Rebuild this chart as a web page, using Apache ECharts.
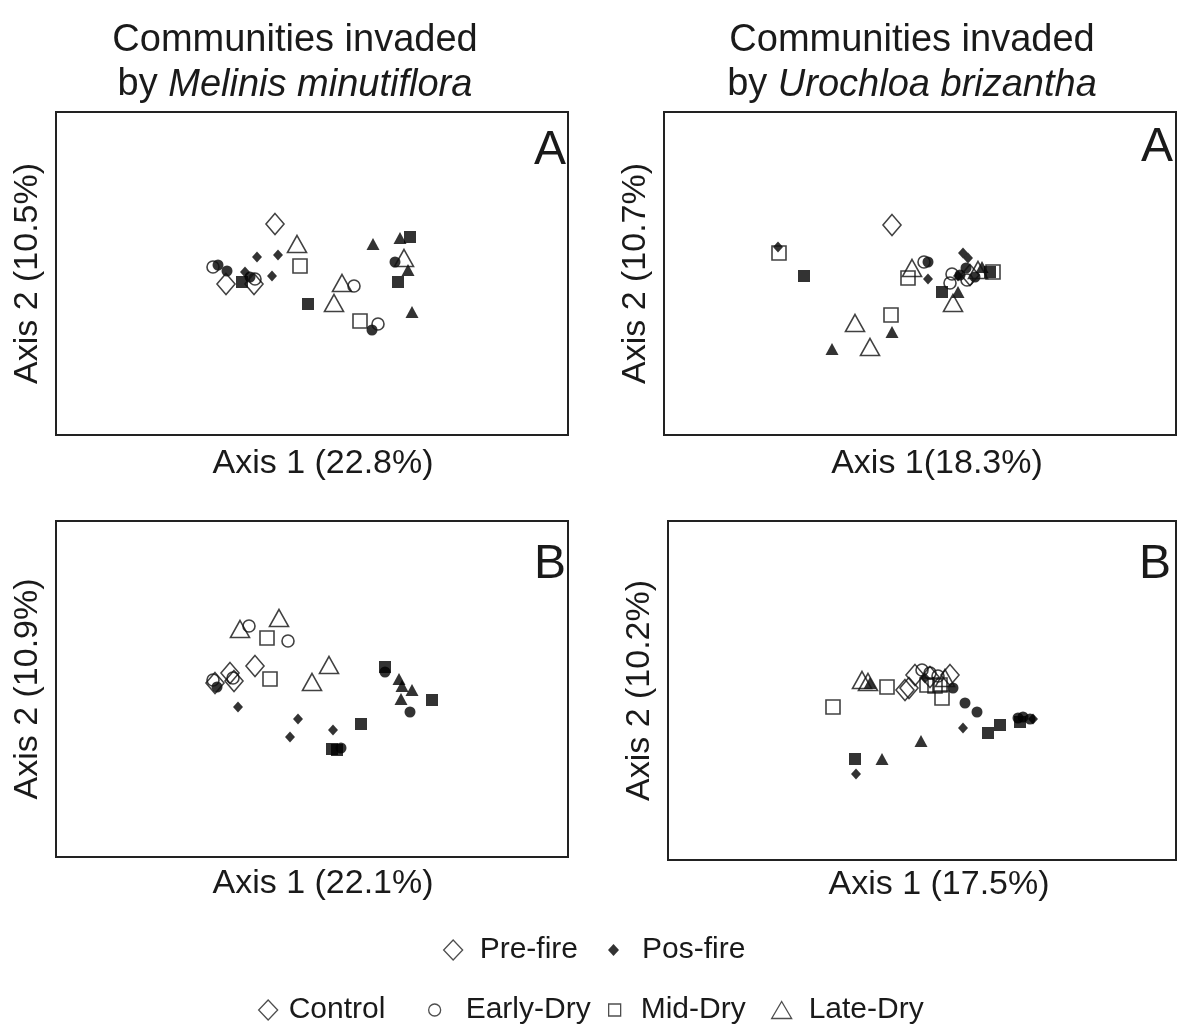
<!DOCTYPE html>
<html>
<head>
<meta charset="utf-8">
<script src="https://cdn.jsdelivr.net/npm/echarts@6/dist/echarts.min.js"></script>
<style>
html,body{margin:0;padding:0;background:#fff;}
#chart{width:1185px;height:1025px;}
</style>
</head>
<body>
<div id="chart"></div>
<script>
// ---------- DATA (ordination scores, in panel units) ----------
const groups = ['Pre-fire Control','Pre-fire Early-Dry','Pre-fire Mid-Dry','Pre-fire Late-Dry',
                'Pos-fire Control','Pos-fire Early-Dry','Pos-fire Mid-Dry','Pos-fire Late-Dry'];

const panelTitles = ['Melinis minutiflora', 'Urochloa brizantha'];
const panelLetters = ['A', 'A', 'B', 'B'];
const xAxisNames = ['Axis 1 (22.8%)', 'Axis 1(18.3%)', 'Axis 1 (22.1%)', 'Axis 1 (17.5%)'];
const yAxisNames = ['Axis 2 (10.5%)', 'Axis 2 (10.7%)', 'Axis 2 (10.9%)', 'Axis 2 (10.2%)'];
const legendFire = ['Pre-fire', 'Pos-fire'];
const legendSeason = ['Control', 'Early-Dry', 'Mid-Dry', 'Late-Dry'];

// Panel A, Melinis minutiflora
const mmA_preControl = [[275,224],[226,284],[254,284]];
const mmA_preEarly   = [[213,267],[255,279],[354,286],[378,324]];
const mmA_preMid     = [[300,266],[360,321]];
const mmA_preLate    = [[297,244],[342,283],[334,303],[404,258]];
const mmA_posControl = [[278,255],[257,257],[245,272],[272,276]];
const mmA_posEarly   = [[218,265],[227,271],[250,277],[372,330],[395,262]];
const mmA_posMid     = [[242,282],[308,304],[410,237],[398,282]];
const mmA_posLate    = [[373,244],[400,238],[408,270],[412,312]];

// Panel A, Urochloa brizantha
const ubA_preControl = [[892,225],[970,275]];
const ubA_preEarly   = [[924,262],[952,274],[967,280],[950,283]];
const ubA_preMid     = [[779,253],[908,278],[891,315],[993,272]];
const ubA_preLate    = [[912,268],[953,303],[855,323],[870,347],[978,270]];
const ubA_posControl = [[778,247],[928,279],[963,253],[968,258],[958,276]];
const ubA_posEarly   = [[928,262],[960,275],[975,277],[966,268]];
const ubA_posMid     = [[804,276],[942,292],[990,272]];
const ubA_posLate    = [[958,292],[892,332],[832,349],[982,267]];

// Panel B, Melinis minutiflora
const mmB_preControl = [[255,666],[230,673],[234,681],[215,683]];
const mmB_preEarly   = [[249,626],[288,641],[213,680],[233,678]];
const mmB_preMid     = [[267,638],[270,679]];
const mmB_preLate    = [[240,629],[279,618],[329,665],[312,682]];
const mmB_posControl = [[238,707],[298,719],[290,737],[333,730]];
const mmB_posEarly   = [[217,687],[341,748],[385,672],[410,712]];
const mmB_posMid     = [[361,724],[332,749],[337,750],[385,667],[432,700]];
const mmB_posLate    = [[399,679],[402,686],[412,690],[401,699]];

// Panel B, Urochloa brizantha
const ubB_preControl = [[909,688],[915,675],[950,675],[930,677],[905,690]];
const ubB_preEarly   = [[922,670],[930,673],[938,676]];
const ubB_preMid     = [[887,687],[833,707],[927,685],[940,685],[942,698],[935,686]];
const ubB_preLate    = [[862,680],[868,682],[945,678]];
const ubB_posControl = [[963,728],[856,774],[1033,719],[925,678]];
const ubB_posEarly   = [[953,688],[965,703],[977,712],[1018,718],[1023,717],[1030,719]];
const ubB_posMid     = [[988,733],[1000,725],[1020,722],[855,759]];
const ubB_posLate    = [[921,741],[882,759],[870,683]];

const panelData = [
  [mmA_preControl, mmA_preEarly, mmA_preMid, mmA_preLate, mmA_posControl, mmA_posEarly, mmA_posMid, mmA_posLate],
  [ubA_preControl, ubA_preEarly, ubA_preMid, ubA_preLate, ubA_posControl, ubA_posEarly, ubA_posMid, ubA_posLate],
  [mmB_preControl, mmB_preEarly, mmB_preMid, mmB_preLate, mmB_posControl, mmB_posEarly, mmB_posMid, mmB_posLate],
  [ubB_preControl, ubB_preEarly, ubB_preMid, ubB_preLate, ubB_posControl, ubB_posEarly, ubB_posMid, ubB_posLate]
];

// ---------- LAYOUT / STYLE ----------
const FONT = '"Liberation Sans", Arial, sans-serif';
const INK = '#1a1a1a';
const boxes = [
  {left: 56,  top: 112, width: 512, height: 323},
  {left: 664, top: 112, width: 512, height: 323},
  {left: 56,  top: 521, width: 512, height: 336},
  {left: 668, top: 521, width: 508, height: 339}
];
const markerStyles = [
  {symbol: 'diamond',  size: [18, 21], filled: false},
  {symbol: 'circle',   size: 12,       filled: false},
  {symbol: 'rect',     size: 14,       filled: false},
  {symbol: 'triangle', size: [19, 17], filled: false},
  {symbol: 'diamond',  size: [10, 11], filled: true},
  {symbol: 'circle',   size: 11,       filled: true},
  {symbol: 'rect',     size: 12,       filled: true},
  {symbol: 'triangle', size: [13, 12], filled: true}
];
function styleOf(m) {
  return m.filled
    ? {color: '#000', borderColor: '#000', borderWidth: 0}
    : {color: 'rgba(255,255,255,0)', borderColor: '#111', borderWidth: 1.6};
}

const grid = boxes.map(b => ({
  left: b.left, top: b.top, width: b.width, height: b.height,
  show: true, borderColor: '#222', borderWidth: 2, backgroundColor: '#fff', containLabel: false
}));

const xNameGaps = [12, 12, 10, 8];
const xNameShift = [22, 34, 22, 34];
const xAxis = boxes.map((b, i) => ({
  type: 'value', gridIndex: i, min: b.left, max: b.left + b.width,
  axisLine: {show: false}, axisTick: {show: false}, axisLabel: {show: false}, splitLine: {show: false},
  name: xAxisNames[i], nameLocation: 'middle', nameGap: xNameGaps[i],
  nameTextStyle: {fontFamily: FONT, fontSize: 34, color: INK, padding: [0, 0, 0, xNameShift[i]]}
}));
const yAxis = boxes.map((b, i) => ({
  type: 'value', gridIndex: i, min: b.top, max: b.top + b.height, inverse: true,
  axisLine: {show: false}, axisTick: {show: false}, axisLabel: {show: false}, splitLine: {show: false},
  name: yAxisNames[i], nameLocation: 'middle', nameGap: 11,
  nameTextStyle: {fontFamily: FONT, fontSize: 34, color: INK}
}));

const series = [];
panelData.forEach((sets, p) => {
  sets.forEach((pts, g) => {
    const m = markerStyles[g];
    series.push({
      type: 'scatter', name: groups[g], xAxisIndex: p, yAxisIndex: p,
      data: pts, symbol: m.symbol, symbolSize: m.size, silent: true,
      itemStyle: styleOf(m), z: m.filled ? 2 : 3, emphasis: {disabled: true}
    });
  });
});
// empty series that carry the legend entries
const legendDefs = [
  {name: legendFire[0],   icon: 'diamond',  w: 19, h: 20, filled: false, left: 443, top: 935, pad: 12},
  {name: legendFire[1],   icon: 'diamond',  w: 11, h: 12, filled: true,  left: 608, top: 935, pad: 18},
  {name: legendSeason[0], icon: 'diamond',  w: 19, h: 20, filled: false, left: 258, top: 995, pad: 6},
  {name: legendSeason[1], icon: 'circle',   w: 12, h: 12, filled: false, left: 428, top: 995, pad: 20},
  {name: legendSeason[2], icon: 'rect',     w: 12, h: 12, filled: false, left: 608, top: 995, pad: 15},
  {name: legendSeason[3], icon: 'triangle', w: 20, h: 17, filled: false, left: 771, top: 995, pad: 12}
];
legendDefs.forEach(d => {
  series.push({type: 'scatter', name: d.name, xAxisIndex: 0, yAxisIndex: 0, data: [],
    symbol: d.icon, itemStyle: styleOf({filled: d.filled})});
});
const legend = legendDefs.map(d => ({
  left: d.left, top: d.top, padding: 0, itemGap: 0, selectedMode: false,
  itemWidth: d.w, itemHeight: d.h, symbolKeepAspect: false,
  data: [{name: d.name, icon: d.icon,
          itemStyle: d.filled ? {color: '#000', borderColor: '#000', borderWidth: 0}
                              : {color: '#fff', borderColor: '#222', borderWidth: 1.3}}],
  textStyle: {fontFamily: FONT, fontSize: 30, color: INK, lineHeight: 30, padding: [0, 0, 0, d.pad]}
}));

const titleStyle = {fontFamily: FONT, fontSize: 38, fontWeight: 'normal', color: INK, lineHeight: 44,
  rich: {i: {fontFamily: FONT, fontSize: 38, fontStyle: 'italic', color: INK, lineHeight: 44}}};
const title = [
  {text: 'Communities invaded\nby {i|' + panelTitles[0] + '}', left: 295, top: 19, padding: 0, textAlign: 'center', textStyle: titleStyle},
  {text: 'Communities invaded\nby {i|' + panelTitles[1] + '}', left: 912, top: 19, padding: 0, textAlign: 'center', textStyle: titleStyle}
];
const letterPos = [[550, 127], [1157, 124], [550, 541], [1155, 541]];
panelLetters.forEach((t, i) => {
  title.push({text: t, left: letterPos[i][0], top: letterPos[i][1], padding: 0, textAlign: 'center',
    textStyle: {fontFamily: FONT, fontSize: 48, fontWeight: 'normal', color: INK, lineHeight: 48}});
});

const chart = echarts.init(document.getElementById('chart'), null, {renderer: 'canvas'});
chart.setOption({
  animation: false, backgroundColor: '#fff',
  title, grid, xAxis, yAxis, legend, series
});
</script>
</body>
</html>
